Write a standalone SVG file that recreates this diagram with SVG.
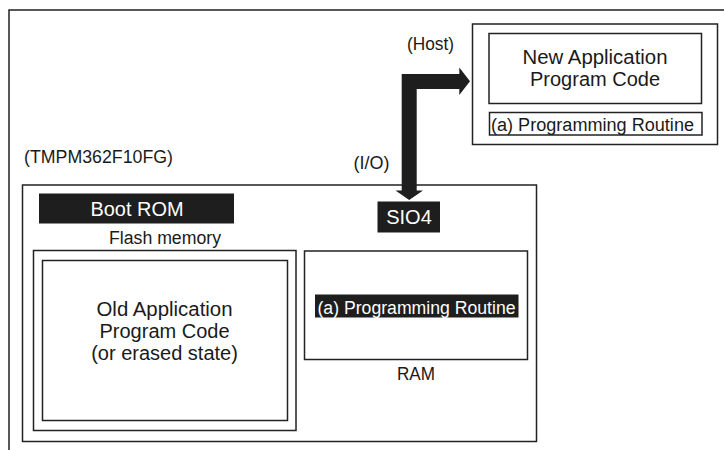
<svg xmlns="http://www.w3.org/2000/svg" width="724" height="450" viewBox="0 0 724 450">
<style>
.box{fill:none;stroke:#222;stroke-width:1.5}
.blk{fill:#1e1e1e}
text{font-family:"Liberation Sans",Arial,sans-serif;fill:#1a1a1a;text-anchor:middle}
.w{fill:#fff}
.s18{font-size:18px}
.s20{font-size:20px}
</style>
<rect width="724" height="450" fill="#fff"/>
<g id="frame"><path class="box" d="M9,450 V10 H724"/></g>
<g id="chip">
<rect class="box" x="22.5" y="185" width="514" height="256.5"/>
<text class="s18" x="98.5" y="162.5" textLength="149" lengthAdjust="spacingAndGlyphs">(TMPM362F10FG)</text>
</g>
<g id="bootrom">
<rect class="blk" x="39" y="193.5" width="195" height="30"/>
<text class="s20 w" x="137" y="216" textLength="93" lengthAdjust="spacingAndGlyphs">Boot ROM</text>
</g>
<g id="flash">
<text class="s18" x="165" y="244" textLength="112" lengthAdjust="spacingAndGlyphs">Flash memory</text>
<rect class="box" x="33.5" y="250.5" width="262.5" height="180"/>
<rect class="box" x="42.5" y="260.5" width="245" height="160"/>
<text class="s20" x="164.5" y="316" textLength="136" lengthAdjust="spacingAndGlyphs">Old Application</text>
<text class="s20" x="164.5" y="338">Program Code</text>
<text class="s20" x="164.5" y="360">(or erased state)</text>
</g>
<g id="sio4">
<rect class="blk" x="377.5" y="201.5" width="62.5" height="31"/>
<text class="s20 w" x="409" y="223.5">SIO4</text>
</g>
<g id="ram">
<rect class="box" x="304.5" y="251" width="223" height="108.5"/>
<rect class="blk" x="315" y="294.5" width="203.5" height="23"/>
<text class="s18 w" x="416.5" y="313.5" textLength="198" lengthAdjust="spacingAndGlyphs">(a) Programming Routine</text>
<text class="s18" x="416" y="380" textLength="38" lengthAdjust="spacingAndGlyphs">RAM</text>
</g>
<g id="host">
<rect class="box" x="472.5" y="24" width="245" height="120.5"/>
<rect class="box" x="489" y="33.5" width="212.5" height="70"/>
<text class="s20" x="595" y="63.5" textLength="145" lengthAdjust="spacingAndGlyphs">New Application</text>
<text class="s20" x="595" y="86">Program Code</text>
<rect class="box" x="489.5" y="112.5" width="212.5" height="22.5"/>
<text class="s18" x="592.5" y="130.5" textLength="203" lengthAdjust="spacingAndGlyphs">(a) Programming Routine</text>
</g>
<g id="connectors">
<polygon class="blk" points="401.7,74 459.3,74 459.3,67.5 470,81.3 459.3,95 459.3,89 416.7,89 416.7,190.5 423,190.5 409.2,200 395.5,190.5 401.7,190.5"/>
<text class="s18" x="430.5" y="50" textLength="47" lengthAdjust="spacingAndGlyphs">(Host)</text>
<text class="s18" x="371.5" y="169" textLength="36" lengthAdjust="spacingAndGlyphs">(I/O)</text>
</g>
</svg>
